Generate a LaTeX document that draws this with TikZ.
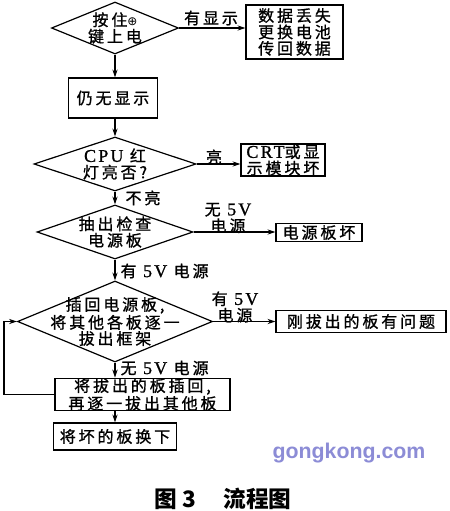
\documentclass[tikz,border=0pt]{standalone}
\usepackage{fontspec}
\newfontfamily\cjk[LetterSpace=18,FakeBold=1]{Noto Sans CJK SC}
\newfontfamily\cjkcap{Noto Sans CJK SC}
\newfontfamily\latfont[LetterSpace=12,FakeBold=1]{Liberation Serif}
\newfontfamily\symfont{DejaVu Sans}
\newfontfamily\wmfont{Liberation Sans}
\newcommand\lat[1]{{\latfont\fontsize{13.5}{12.3}\selectfont #1}}
\usetikzlibrary{shapes.geometric}
\usetikzlibrary{arrows.meta}
\definecolor{wmblue}{RGB}{140,140,214}

\begin{document}
\begin{tikzpicture}[x=0.75pt, y=-0.75pt, line width=0.9pt, >={Stealth[length=6pt,width=4pt]},
  every node/.style={font=\cjk\fontsize{12}{12.3}\selectfont, align=center, inner sep=0pt},
  decision/.style={draw, diamond},
  stepbox/.style={draw, rectangle}]
  \useasboundingbox (0,0) rectangle (450,511);
  % decisions and boxes
  \node[decision, minimum width=95.25pt, minimum height=39pt] (d1) at (115,28) {};
  \node (d1t) at (d1) {按住{\symfont\small ⊕}\\键上电};
  \node[stepbox, minimum width=72.75pt, minimum height=40.5pt] (b1) at (294.5,32) {数据丢失\\更换电池\\传回数据};
  \node[stepbox, minimum width=66.75pt, minimum height=30pt] (b2) at (113,98) {仍无显示};
  \node[decision, minimum width=121.5pt, minimum height=40.5pt] (d3) at (115,164) {};
  \node (d3t) at (d3) {\lat{CPU} 红\\灯亮否?};
  \node[stepbox, minimum width=63pt, minimum height=24pt] (b3) at (283,160) {\lat{CRT}或显\\示模块坏};
  \node[decision, minimum width=117pt, minimum height=40.5pt] (d4) at (115,232) {};
  \node (d4t) at (d4) {抽出检查\\电源板};
  \node[stepbox, minimum width=64.5pt, minimum height=13.5pt] (b4) at (319,232.5) {电源板坏};
  \node[decision, minimum width=146.25pt, minimum height=60.75pt] (d5) at (115,321.5) {};
  \node[font=\cjk\fontsize{12}{10.5}\selectfont] (d5t) at (d5) {插回电源板,\\将其他各板逐一\\拔出框架};
  \node[stepbox, minimum width=127.5pt, minimum height=16.5pt] (b5) at (361,321.5) {刚拔出的板有问题};
  \node[stepbox, minimum width=131.25pt, minimum height=21.75pt, font=\cjk\fontsize{12}{11.3}\selectfont] (b6) at (142.5,394.5) {将拔出的板插回,\\再逐一拔出其他板};
  \node[stepbox, minimum width=92.25pt, minimum height=20.25pt] (b7) at (115,436.5) {将坏的板换下};
  \coordinate (loop) at (4,394.5);
  % connectors
  \draw[->] (d1.east) -- (d1.east -| b1.west);
  \draw[->] (d1.south) -- (d1.south |- b2.north);
  \draw[->] (b2.south -| d3.north) -- (d3.north);
  \draw[->] (d3.east) -- (d3.east -| b3.west);
  \draw[->] (d3.south) -- (d4.north);
  \draw[->] (d4.east) -- (d4.east -| b4.west);
  \draw[->] (d4.south) -- (d5.north);
  \draw[->] (d5.east) -- (d5.east -| b5.west);
  \draw[->] (d5.south) -- (d5.south |- b6.north);
  \draw[->] (b6.south -| b7.north) -- (b7.north);
  \draw[->] (b6.west) -- (loop) |- (d5.west);
  % branch labels
  \node (l1) at (211,18) {有显示};
  \node (l3) at (214,157) {亮};
  \node[anchor=west] (l3b) at (125,198) {不亮};
  \node (l4) at (228,218) {无 \lat{5V}\\电源};
  \node[anchor=west] (l4b) at (120,271) {有 \lat{5V} 电源};
  \node (l5) at (235,307) {有 \lat{5V}\\电源};
  \node[anchor=west] (l5b) at (120,368) {无 \lat{5V} 电源};
  % watermark and caption
  \node[font=\wmfont\bfseries\fontsize{16}{18}\selectfont, text=wmblue] (wm) at (349,453) {gongkong.com};
  \node[font=\cjkcap\bfseries\fontsize{17}{19}\selectfont] (cap) at (223,499) {图 3\hspace{1.2em}流程图};
\end{tikzpicture}
\end{document}
